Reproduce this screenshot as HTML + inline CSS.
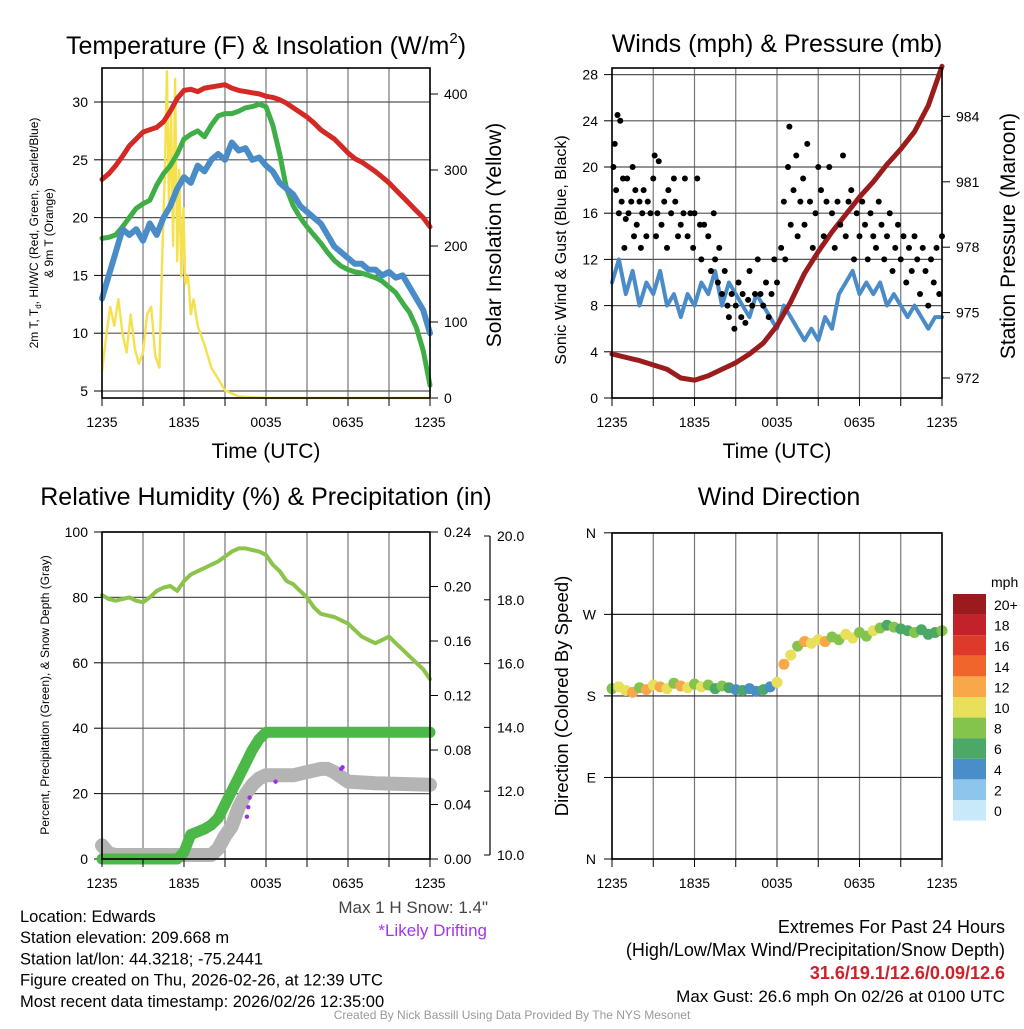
<!DOCTYPE html>
<html><head><meta charset="utf-8"><style>
body{margin:0;background:#fff;width:1024px;height:1024px;overflow:hidden;font-family:"Liberation Sans",sans-serif}
svg text{font-family:"Liberation Sans",sans-serif}
</style></head><body>
<svg id="c" width="1024" height="1024" xmlns="http://www.w3.org/2000/svg"></svg>
<script>
// ---------- DATA ----------
const hours49 = Array.from({length:49},(_,i)=>i*0.5);
const tempRed = [23.3,23.8,24.5,25.3,26.2,26.8,27.4,27.6,27.8,28.3,29.2,30.3,31.0,31.1,30.9,31.2,31.3,31.4,31.5,31.2,31.0,30.9,30.8,30.7,30.5,30.4,30.2,29.9,29.5,29.1,28.7,28.2,27.6,27.2,26.8,26.2,25.6,25.1,24.8,24.4,24.0,23.5,23.0,22.4,21.8,21.2,20.6,20.0,19.2];
const tempGreen = [18.2,18.3,18.5,19.2,20.0,20.8,21.2,21.5,22.8,23.8,24.5,25.5,26.8,27.2,27.5,27.0,28.0,28.8,29.0,29.0,29.2,29.5,29.6,29.8,29.6,28.0,25.5,22.5,21.0,20.0,19.2,18.5,17.8,17.0,16.3,15.8,15.5,15.3,15.2,15.0,14.8,14.5,14.0,13.5,12.6,11.8,10.5,8.5,5.5];
const tempBlue = [13.0,15.0,17.0,19.0,18.5,19.0,18.0,19.5,18.5,20.0,21.0,22.5,23.5,23.0,24.5,24.0,25.0,25.5,25.0,26.5,25.8,26.0,25.0,25.2,24.5,24.0,23.0,22.5,22.0,21.0,20.5,20.0,19.5,18.5,17.5,17.0,16.5,16.0,16.0,15.5,15.5,15.0,15.3,14.8,15.0,14.0,13.0,12.0,10.0];
const solarT = [0,0.3,0.6,0.9,1.2,1.5,1.8,2.1,2.4,2.7,3.0,3.3,3.6,3.9,4.2,4.4,4.6,4.75,4.9,5.05,5.2,5.35,5.5,5.65,5.8,5.95,6.1,6.3,6.5,6.7,7.0,7.5,8.0,8.5,9,10,12,16,20,24];
const solarV = [35,80,120,95,130,85,60,110,65,45,60,110,120,55,40,180,300,430,250,380,200,420,180,300,160,250,150,160,110,130,95,70,40,25,10,2,0,0,0,0];
const windBlue = [10,12,9,11,8,10,9,11,8,9,7,9,8,10,9,11,8,10,9,8,7,9,8,7,6,8,7,6,5,6,5,7,6,9,10,11,9,10,9,10,8,9,8,7,8,7,6,7,7];
const pressT = [0,2,4,5,6,7,8,9,10,11,12,13,14,15,16,17,18,19,20,21,22,23,24];
const pressV = [973.1,972.8,972.4,972.0,971.9,972.1,972.4,972.7,973.1,973.6,974.4,975.5,976.8,977.8,978.7,979.5,980.3,981.0,981.8,982.5,983.3,984.5,986.3];
const gustT = [0.1,0.2,0.3,0.4,0.5,0.6,0.7,0.8,0.9,1.0,1.1,1.2,1.4,1.5,1.6,1.7,1.8,2.0,2.1,2.2,2.3,2.5,2.6,2.8,3.0,3.1,3.2,3.3,3.4,3.6,3.8,4.0,4.1,4.3,4.5,4.6,4.8,5.0,5.2,5.3,5.5,5.7,5.9,6.0,6.2,6.4,6.5,6.7,7.0,7.2,7.4,7.5,7.7,7.8,8.0,8.2,8.4,8.5,8.7,8.9,9.0,9.2,9.4,9.5,9.7,9.9,10.0,10.2,10.4,10.6,10.8,11.0,11.2,11.4,11.6,11.8,12.0,12.3,12.5,12.6,12.8,12.9,13.0,13.2,13.4,13.5,13.7,13.9,14.0,14.2,14.4,14.6,14.8,15.0,15.2,15.4,15.6,15.8,16.0,16.2,16.4,16.6,16.8,17.0,17.2,17.4,17.6,17.8,18.0,18.2,18.4,18.6,18.8,19.0,19.2,19.4,19.6,19.8,20.0,20.2,20.4,20.6,20.8,21.0,21.2,21.4,21.6,21.8,22.0,22.2,22.4,22.6,22.8,23.0,23.2,23.4,23.6,23.8,24.0];
const gustV = [20,22,18,24.5,16,24,17,19,13,15.5,19,16,17,20,14,18,15,17,13,16,18,14,17,16,19,21,14,16,20.5,15,17,13,18,16,19,17,14,15,16,19,14,16,13,16,19,15,12,15,14,11,16,12,10,13,9,11,8,7,9,6,8,10,7,9,6.5,8.5,11,8,9,12,9,8,10,7,9,12,10,13,17,12,20,23.5,15,18,21,14,17,19,15,22,17,13,16,20,18,14,17,20,16,13,17,15,21,14,17,18,12,16,14,17,15,12,16,14,13,17,15,12,14,16,11,13,15,12,14,10,13,11,14,12,9,13,11,8,12,10,13,9,14];
const rhV = [80.7,79.5,79,79.5,80,79,78.5,80,82,83,83.5,82,85,87,88,89,90,91,92.5,94,95,95,94.5,94,93,90,88,85,84,82,80,77,75,74.5,74,73,72,70,68,67,66,67,68,66,64,62,60,58,55];
const precipT = [0,5.5,6,6.5,7,7.5,8,8.5,9,9.5,10,10.5,11,11.5,12,24];
const precipV = [0,0,0.005,0.018,0.02,0.022,0.025,0.03,0.04,0.05,0.06,0.07,0.08,0.088,0.093,0.093];
const snowT = [0,0.5,1,6,8,8.5,9,9.5,10,10.5,11,11.5,12,14,15,16,16.5,17,18,20,24];
const snowV = [10.3,10.05,10.0,10.0,10.0,10.2,10.6,10.9,11.5,11.9,12.2,12.4,12.5,12.5,12.6,12.7,12.7,12.6,12.3,12.25,12.2];
const driftT = [10.6,10.7,10.8,12.7,17.5,17.6];
const driftV = [11.2,11.5,11.8,12.3,12.7,12.75];
const dirV = [188,190,186,184,189,187,192,190,188,194,191,189,193,190,192,188,191,189,187,186,188,185,187,190,195,215,225,235,240,238,242,240,245,242,248,244,250,246,252,255,258,256,254,252,250,253,248,250,252];
const dirSpd = [9,11,10,12,9,13,10,12,11,9,12,10,8,11,9,7,8,6,5,6,4,5,6,5,10,12,11,9,13,10,11,12,9,8,10,11,9,8,10,9,7,8,7,6,8,7,6,7,8];
const cbLabels = ["20+","18","16","14","12","10","8","6","4","2","0"];
const cbColors = ["#9b1a1e","#c4222a","#de3a2c","#f0652b","#f8a848","#e8e05a","#84c44c","#4ba866","#4a8ec8","#8cc6ec","#c7e9f9"];
const timeLabels = ["1235","1835","0035","0635","1235"];

// ---------- HELPERS ----------
const svg=document.getElementById('c');const NS="http://www.w3.org/2000/svg";
function el(tag,attrs,parent){const e=document.createElementNS(NS,tag);for(const k in attrs)e.setAttribute(k,attrs[k]);(parent||svg).appendChild(e);return e;}
function txt(s,x,y,size,anchor,extra){const e=el('text',Object.assign({x:x,y:y,'font-size':size,'text-anchor':anchor||'middle',fill:'#000'},extra||{}));e.textContent=s;return e;}
function colorFor(s){let i=10-Math.min(10,Math.floor(s/2));return cbColors[i];}
function frame(L,R,T,B,name){
  const g=el('g',{});
  
  
  for(let h=0;h<=24;h+=3){const x=L+(R-L)*h/24;el('line',{x1:x,x2:x,y1:T,y2:B,stroke:'#777','stroke-width':1.2},g);}
  return g;
}
function border(L,R,T,B){el('rect',{x:L,y:T,width:R-L,height:B-T,fill:'none',stroke:'#000','stroke-width':1.6});}
function xLabels(L,R,B){timeLabels.forEach((s,i)=>{const x=L+(R-L)*i/4;const t=txt(s,x,B+29,14);});
  for(let h=0;h<=24;h+=3){const x=L+(R-L)*h/24;el('line',{x1:x,x2:x,y1:B,y2:B+8,stroke:'#000','stroke-width':1});}}
function path(xs,ys,stroke,w,name){let d='';xs.forEach((x,i)=>d+=(i?'L':'M')+x.toFixed(1)+','+ys[i].toFixed(1));const p=el('path',{d:d,fill:'none',stroke:stroke,'stroke-width':w,'stroke-linejoin':'round','stroke-linecap':'round'});return p;}

// ---------- PANEL 1 ----------
{const L=102,R=430,T=68,B=398;const X=h=>L+(R-L)*h/24;const YL=v=>391-(v-5)*11.56;const YR=v=>398-v*0.76;
frame(L,R,T,B,'temperature-panel');
[5,10,15,20,25,30].forEach(v=>{el('line',{x1:L,x2:R,y1:YL(v),y2:YL(v),stroke:'#555','stroke-width':1.2});el('line',{x1:L-8,x2:L,y1:YL(v),y2:YL(v),stroke:'#000'});txt(String(v),L-14,YL(v)+5,14,'end');});
[0,100,200,300,400].forEach(v=>{el('line',{x1:R,x2:R+8,y1:YR(v),y2:YR(v),stroke:'#000'});txt(String(v),R+14,YR(v)+5,14,'start');});
path(solarT.map(X),solarV.map(YR),'#f5e04e',2.4,'solar-insolation-line');
path(hours49.map(X),tempGreen.map(YL),'#3fae46',5,'dewpoint-line');
path(hours49.map(X),tempBlue.map(YL),'#4a8cc8',6,'wind-chill-line');
path(hours49.map(X),tempRed.map(YL),'#d42a26',5,'temperature-line');
border(L,R,T,B);xLabels(L,R,B);
const t1=txt('',266,54,25,'middle');t1.innerHTML='Temperature (F) &amp; Insolation (W/m<tspan font-size="15" dy="-11">2</tspan><tspan dy="11">)</tspan>';

txt('Time (UTC)',266,458,21);
const a=txt('',0,0,12,'middle',{transform:'translate(38,233) rotate(-90)'});a.innerHTML='2m T, T<tspan font-size="8" dy="3">d</tspan><tspan dy="-3">, HI/WC (Red, Green, Scarlet/Blue)</tspan>';
txt('& 9m T (Orange)',0,0,12,'middle',{transform:'translate(53,233) rotate(-90)'});
txt('Solar Insolation (Yellow)',0,0,21,'middle',{transform:'translate(501,235) rotate(-90)'});}

// ---------- PANEL 2 ----------
{const L=612,R=942,T=68,B=398;const X=h=>L+(R-L)*h/24;const YL=v=>398-v*11.55;const YP=p=>378-(p-972)*21.8;
frame(L,R,T,B,'winds-panel');
[0,4,8,12,16,20,24,28].forEach(v=>{el('line',{x1:L,x2:R,y1:YL(v),y2:YL(v),stroke:'#555','stroke-width':1.2});el('line',{x1:L-8,x2:L,y1:YL(v),y2:YL(v),stroke:'#000'});txt(String(v),L-14,YL(v)+5,14,'end');});
[972,975,978,981,984].forEach(v=>{el('line',{x1:R,x2:R+8,y1:YP(v),y2:YP(v),stroke:'#000'});txt(String(v),R+14,YP(v)+5,14,'start');});
path(hours49.map(X),windBlue.map(YL),'#4a8cc8',4,'sonic-wind-line');
path(pressT.map(X),pressV.map(YP),'#9b1c1c',5,'pressure-line');
gustT.forEach((t,i)=>{const c=el('circle',{cx:X(t),cy:YL(gustV[i]),r:3,fill:'#000'});});
border(L,R,T,B);xLabels(L,R,B);
txt('Winds (mph) & Pressure (mb)',777,52,25);
txt('Time (UTC)',777,458,21);
txt('Sonic Wind & Gust (Blue, Black)',0,0,16,'middle',{transform:'translate(566,250) rotate(-90)'});
txt('Station Pressure (Maroon)',0,0,21,'middle',{transform:'translate(1015,236) rotate(-90)'});}

// ---------- PANEL 3 ----------
{const L=102,R=430,T=532,B=859;const X=h=>L+(R-L)*h/24;const YL=v=>859-v*3.27;const YI=v=>859-v/0.24*327;const YS=v=>855-(v-10)*31.9;
frame(L,R,T,B,'humidity-panel');
[0,20,40,60,80,100].forEach(v=>{el('line',{x1:L,x2:R,y1:YL(v),y2:YL(v),stroke:'#555','stroke-width':1.2});el('line',{x1:L-8,x2:L,y1:YL(v),y2:YL(v),stroke:'#000'});txt(String(v),L-14,YL(v)+5,14,'end');});
[0,0.04,0.08,0.12,0.16,0.20,0.24].forEach(v=>{el('line',{x1:R,x2:R+8,y1:YI(v),y2:YI(v),stroke:'#000'});txt(v.toFixed(2),R+14,YI(v)+5,14,'start');});
el('line',{x1:490,x2:490,y1:YS(20),y2:YS(10),stroke:'#000','stroke-width':1.2});
[10,12,14,16,18,20].forEach(v=>{el('line',{x1:484,x2:490,y1:YS(v),y2:YS(v),stroke:'#000'});txt(v.toFixed(1),497,YS(v)+5,14,'start');});
path(snowT.map(X),snowV.map(YS),'#b4b4b4',14,'snow-depth-line');
path(precipT.map(X),precipV.map(YI),'#4cb848',11,'precipitation-line');
path(hours49.map(X),rhV.map(YL),'#8cc34a',4,'relative-humidity-line');
driftT.forEach((t,i)=>{const c=el('circle',{cx:X(t),cy:YS(driftV[i]),r:2.2,fill:'#9b30e0'});});
border(L,R,T,B);xLabels(L,R,B);
txt('Relative Humidity (%) & Precipitation (in)',266,505,25);
txt('Percent, Precipitation (Green), & Snow Depth (Gray)',0,0,12,'middle',{transform:'translate(49,695) rotate(-90)'});
txt('Max 1 H Snow: 1.4"',488,913,17,'end',{fill:'#444'});
txt('*Likely Drifting',487,936,17,'end',{fill:'#a335ee'});}

// ---------- PANEL 4 ----------
{const L=612,R=942,T=533,B=859;const X=h=>L+(R-L)*h/24;const YD=d=>859-d*0.906;
frame(L,R,T,B,'wind-direction-panel');
[[0,'N'],[90,'E'],[180,'S'],[270,'W'],[360,'N']].forEach(([d,s])=>{el('line',{x1:L,x2:R,y1:YD(d),y2:YD(d),stroke:'#222','stroke-width':1.2});el('line',{x1:L-8,x2:L,y1:YD(d),y2:YD(d),stroke:'#000'});txt(s,L-16,YD(d)+5,14,'end');});
dirV.forEach((d,i)=>{const c=el('circle',{cx:X(hours49[i]),cy:YD(d),r:5.5,fill:colorFor(dirSpd[i])});});
border(L,R,T,B);xLabels(L,R,B);
txt('Wind Direction',779,505,25);
txt('Direction (Colored By Speed)',0,0,18.5,'middle',{transform:'translate(568,696) rotate(-90)'});
txt('mph',991,587,14,'start');
cbColors.forEach((c,i)=>{const y=594+i*20.6;const r=el('rect',{x:953,y:y,width:33,height:20.6,fill:c});txt(cbLabels[i],994,y+16,14,'start');});}

// ---------- FOOTER TEXT ----------
["Location: Edwards","Station elevation: 209.668 m","Station lat/lon: 44.3218; -75.2441","Figure created on Thu, 2026-02-26, at 12:39 UTC","Most recent data timestamp: 2026/02/26 12:35:00"].forEach((s,i)=>txt(s,20,922+i*21.2,16.5,'start'));
txt('Extremes For Past 24 Hours',1005,933,18,'end');
txt('(High/Low/Max Wind/Precipitation/Snow Depth)',1005,956,18,'end');
txt('31.6/19.1/12.6/0.09/12.6',1005,979,18,'end',{fill:'#d0202a','font-weight':'bold'});
txt('Max Gust: 26.6 mph On 02/26 at 0100 UTC',1005,1002,17,'end');
txt('Created By Nick Bassill Using Data Provided By The NYS Mesonet',512,1019,12,'middle',{fill:'#999'});
</script>
</body></html>
